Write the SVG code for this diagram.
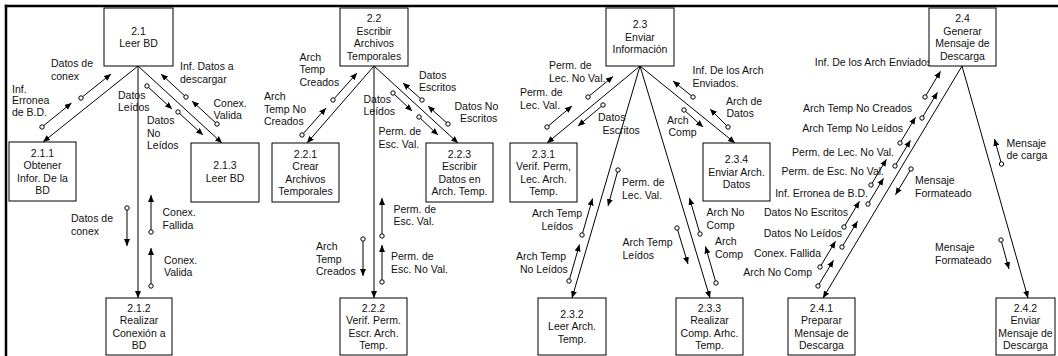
<svg xmlns="http://www.w3.org/2000/svg" width="1058" height="356" viewBox="0 0 1058 356">
<style>
.b{fill:#fff;stroke:#000;stroke-width:1}
.t{font-family:"Liberation Sans",Arial,Helvetica,sans-serif;font-size:10.5px;fill:#111}
.c{text-anchor:middle}
.e{text-anchor:end}
.m{fill:none;stroke:#000;stroke-width:1;marker-end:url(#a)}
.f{fill:none;stroke:#000;stroke-width:1;marker-start:url(#o);marker-end:url(#a)}
.fr{stroke:#000;stroke-width:2.5;fill:none}
</style>
<defs>
<marker id="a" viewBox="0 0 7 6" refX="7" refY="3" markerWidth="7" markerHeight="6" orient="auto" markerUnits="userSpaceOnUse"><path d="M0,0L7,3L0,6z" fill="#000"/></marker>
<marker id="o" viewBox="-3.5 -3.5 7 7" refX="0" refY="0" markerWidth="7" markerHeight="7" markerUnits="userSpaceOnUse"><circle r="2.2" fill="#fff" stroke="#000" stroke-width="1"/></marker>
</defs>
<rect width="1058" height="356" fill="#fff"/>
<g id="frame">
<line class="fr" x1="4.8" y1="6" x2="1058" y2="6"/>
<line class="fr" x1="6" y1="4.8" x2="6" y2="356"/>
</g>
<g id="connectors">
<line class="m" x1="138" y1="66" x2="43" y2="142"/>
<line class="m" x1="138" y1="66" x2="138" y2="298"/>
<line class="m" x1="138" y1="66" x2="222" y2="143"/>
<line class="m" x1="374" y1="66" x2="307" y2="143"/>
<line class="m" x1="374" y1="66" x2="374" y2="298"/>
<line class="m" x1="374" y1="66" x2="458" y2="143"/>
<line class="m" x1="640" y1="66" x2="547" y2="143"/>
<line class="m" x1="640" y1="66" x2="572" y2="298"/>
<line class="m" x1="640" y1="66" x2="710" y2="298"/>
<line class="m" x1="640" y1="66" x2="735" y2="143"/>
<line class="m" x1="962" y1="66" x2="823" y2="298"/>
<line class="m" x1="962" y1="66" x2="1028" y2="298"/>

<g id="flows21">
<line class="f" x1="81" y1="98" x2="111" y2="74"/>
<text class="t"><tspan x="51" y="67">Datos de</tspan><tspan x="51" y="79.5">conex</tspan></text>
<line class="f" x1="42" y1="127" x2="71.5" y2="103"/>
<text class="t"><tspan x="12" y="92.5">Inf.</tspan><tspan x="12" y="104">Erronea</tspan><tspan x="12" y="115.5">de B.D.</tspan></text>
<line class="f" x1="147" y1="86" x2="172" y2="109"/>
<text class="t"><tspan x="118" y="98.5">Datos</tspan><tspan x="118" y="111">Leídos</tspan></text>
<line class="f" x1="178" y1="112" x2="203" y2="135"/>
<text class="t"><tspan x="147" y="124">Datos</tspan><tspan x="147" y="136.5">No</tspan><tspan x="147" y="149">Leídos</tspan></text>
<line class="f" x1="186" y1="97" x2="161" y2="74"/>
<text class="t"><tspan x="180" y="70">Inf. Datos a</tspan><tspan x="180" y="82.5">descargar</tspan></text>
<line class="f" x1="217" y1="124" x2="192" y2="101"/>
<text class="t"><tspan x="213.5" y="107">Conex.</tspan><tspan x="213.5" y="119">Valida</tspan></text>
<line class="f" x1="127" y1="208" x2="127" y2="246"/>
<text class="t"><tspan x="71" y="222">Datos de</tspan><tspan x="71" y="234.5">conex</tspan></text>
<line class="f" x1="151" y1="232" x2="151" y2="195"/>
<text class="t"><tspan x="162.5" y="216">Conex.</tspan><tspan x="162.5" y="228.5">Fallida</tspan></text>
<line class="f" x1="151" y1="286" x2="151" y2="248"/>
<text class="t"><tspan x="164" y="263.5">Conex.</tspan><tspan x="164" y="276">Valida</tspan></text>
</g>

<g id="flows22">
<line class="f" x1="333" y1="100" x2="357" y2="73"/>
<text class="t"><tspan x="299.5" y="60.5">Arch</tspan><tspan x="299.5" y="73">Temp</tspan><tspan x="299.5" y="85.5">Creados</tspan></text>
<line class="f" x1="302" y1="135" x2="326" y2="108"/>
<text class="t"><tspan x="264" y="100">Arch</tspan><tspan x="264" y="112.5">Temp No</tspan><tspan x="264" y="125">Creados</tspan></text>
<line class="f" x1="393" y1="93" x2="412" y2="111"/>
<text class="t"><tspan x="363.5" y="102.5">Datos</tspan><tspan x="363.5" y="115">Leídos</tspan></text>
<line class="f" x1="419" y1="117" x2="438" y2="135"/>
<text class="t"><tspan x="378.5" y="135">Perm. de</tspan><tspan x="378.5" y="147.5">Esc. Val.</tspan></text>
<line class="f" x1="422" y1="100" x2="403" y2="83"/>
<text class="t"><tspan x="419" y="78.5">Datos</tspan><tspan x="419" y="91">Escritos</tspan></text>
<line class="f" x1="448" y1="124" x2="428" y2="106"/>
<text class="t"><tspan x="454.5" y="109.5">Datos No</tspan><tspan x="460" y="122">Escritos</tspan></text>
<line class="f" x1="363" y1="239" x2="363" y2="276"/>
<text class="t"><tspan x="316" y="250">Arch</tspan><tspan x="316" y="262.5">Temp</tspan><tspan x="316" y="275">Creados</tspan></text>
<line class="f" x1="382" y1="236" x2="382" y2="198"/>
<text class="t"><tspan x="393.5" y="212.5">Perm. de</tspan><tspan x="393.5" y="225">Esc. Val.</tspan></text>
<line class="f" x1="382" y1="282" x2="382" y2="245"/>
<text class="t"><tspan x="391" y="260">Perm. de</tspan><tspan x="391" y="272.5">Esc. No Val.</tspan></text>
</g>

<g id="flows23">
<line class="f" x1="588" y1="97" x2="613" y2="76.5"/>
<text class="t"><tspan x="549" y="69">Perm. de</tspan><tspan x="549" y="81.5">Lec. No Val.</tspan></text>
<line class="f" x1="547" y1="127" x2="572" y2="106"/>
<text class="t"><tspan x="520" y="96">Perm. de</tspan><tspan x="520" y="108.5">Lec. Val.</tspan></text>
<line class="f" x1="603" y1="105" x2="578" y2="126"/>
<text class="t"><tspan x="598" y="121">Datos</tspan><tspan x="602.5" y="133.5">Escritos</tspan></text>
<line class="f" x1="693" y1="97" x2="673" y2="81"/>
<text class="t"><tspan x="692.5" y="74">Inf. De los Arch</tspan><tspan x="692.5" y="86.5">Enviados.</tspan></text>
<line class="f" x1="684" y1="110" x2="703" y2="127"/>
<text class="t"><tspan x="667" y="123.5">Arch</tspan><tspan x="668.5" y="136">Comp</tspan></text>
<line class="f" x1="728" y1="127" x2="710" y2="109"/>
<text class="t"><tspan x="726" y="104.5">Arch de</tspan><tspan x="726.5" y="117">Datos</tspan></text>
<line class="f" x1="618" y1="170" x2="608" y2="206"/>
<text class="t"><tspan x="622" y="186">Perm. de</tspan><tspan x="622" y="198.5">Lec. Val.</tspan></text>
<line class="f" x1="582" y1="235" x2="592.5" y2="198.5"/>
<text class="t"><tspan x="532" y="217">Arch Temp</tspan><tspan x="541.5" y="229.5">Leídos</tspan></text>
<line class="f" x1="569" y1="281" x2="579.5" y2="244.5"/>
<text class="t"><tspan x="516" y="260">Arch Temp</tspan><tspan x="520" y="272.5">No Leídos</tspan></text>
<line class="f" x1="677" y1="228" x2="688" y2="264"/>
<text class="t"><tspan x="622.5" y="246">Arch Temp</tspan><tspan x="622.5" y="258.5">Leídos</tspan></text>
<line class="f" x1="700" y1="234" x2="689.5" y2="198"/>
<text class="t"><tspan x="706.5" y="216">Arch No</tspan><tspan x="706.5" y="228.5">Comp</tspan></text>
<line class="f" x1="716" y1="283" x2="705.5" y2="246.5"/>
<text class="t"><tspan x="715" y="245">Arch</tspan><tspan x="715" y="257.5">Comp</tspan></text>
</g>

<g id="flows24">
<line class="f" x1="818" y1="286" x2="833.5" y2="260.3"/>
<text class="t e" x="812" y="275.5">Arch No Comp</text>
<line class="f" x1="820" y1="267" x2="835.5" y2="241.3"/>
<text class="t e" x="821" y="256.5">Conex. Fallida</text>
<line class="f" x1="842" y1="247" x2="857.5" y2="221.3"/>
<text class="t e" x="842" y="236.5">Datos No Leídos</text>
<line class="f" x1="844" y1="227" x2="859.5" y2="201.3"/>
<text class="t e" x="848" y="215.5">Datos No Escritos</text>
<line class="f" x1="868" y1="204" x2="883.5" y2="178.3"/>
<text class="t e" x="868" y="196.5">Inf. Erronea de B.D.</text>
<line class="f" x1="871" y1="185" x2="886.5" y2="159.3"/>
<text class="t e" x="884" y="174.5">Perm. de Esc. No Val.</text>
<line class="f" x1="895" y1="166" x2="910.5" y2="140.3"/>
<text class="t e" x="894" y="155.5">Perm. de Lec. No Val.</text>
<line class="f" x1="900" y1="143" x2="915.5" y2="117.3"/>
<text class="t e" x="903" y="131.5">Arch Temp No Leídos</text>
<line class="f" x1="922" y1="118" x2="937.5" y2="92.3"/>
<text class="t e" x="912" y="111.5">Arch Temp No Creados</text>
<line class="f" x1="925" y1="97" x2="940.5" y2="71.3"/>
<text class="t e" x="935" y="66">Inf. De los Arch Enviados.</text>
<line class="f" x1="911" y1="169" x2="895.5" y2="194.7"/>
<text class="t"><tspan x="915" y="184">Mensaje</tspan><tspan x="915" y="196.5">Formateado</tspan></text>
<line class="f" x1="1001.5" y1="164" x2="994.5" y2="139"/>
<text class="t"><tspan x="1006.5" y="147">Mensaje</tspan><tspan x="1006.5" y="159">de carga</tspan></text>
<line class="f" x1="1001" y1="240" x2="1009" y2="269"/>
<text class="t"><tspan x="935" y="251">Mensaje</tspan><tspan x="935" y="263.5">Formateado</tspan></text>
</g>
</g>

<g id="n2_1"><rect class="b" x="104" y="8" width="69" height="58"/><text class="t c"><tspan x="138.5" y="34.5">2.1</tspan><tspan x="138.5" y="47">Leer BD</tspan></text></g>
<g id="n2_1_1"><rect class="b" x="9" y="142" width="67" height="59"/><text class="t c"><tspan x="42.5" y="156.5">2.1.1</tspan><tspan x="42.5" y="169">Obtener</tspan><tspan x="42.5" y="181.5">Infor. De la</tspan><tspan x="42.5" y="194">BD</tspan></text></g>
<g id="n2_1_2"><rect class="b" x="106" y="298" width="66" height="57"/><text class="t c"><tspan x="139" y="311.5">2.1.2</tspan><tspan x="139" y="324">Realizar</tspan><tspan x="139" y="336.5">Conexión a</tspan><tspan x="139" y="349">BD</tspan></text></g>
<g id="n2_1_3"><rect class="b" x="191" y="143" width="68" height="59"/><text class="t c"><tspan x="225" y="169">2.1.3</tspan><tspan x="225" y="181.5">Leer BD</tspan></text></g>

<g id="n2_2"><rect class="b" x="340" y="8" width="68" height="58"/><text class="t c"><tspan x="374" y="22">2.2</tspan><tspan x="374" y="34.5">Escribir</tspan><tspan x="374" y="47">Archivos</tspan><tspan x="374" y="59.5">Temporales</tspan></text></g>
<g id="n2_2_1"><rect class="b" x="272" y="143" width="67" height="59"/><text class="t c"><tspan x="305.5" y="157.5">2.2.1</tspan><tspan x="305.5" y="170">Crear</tspan><tspan x="305.5" y="182.5">Archivos</tspan><tspan x="305.5" y="195">Temporales</tspan></text></g>
<g id="n2_2_2"><rect class="b" x="340" y="298" width="67" height="57"/><text class="t c"><tspan x="373.5" y="311.5">2.2.2</tspan><tspan x="373.5" y="324">Verif. Perm.</tspan><tspan x="373.5" y="336.5">Escr. Arch.</tspan><tspan x="373.5" y="349">Temp.</tspan></text></g>
<g id="n2_2_3"><rect class="b" x="426" y="143" width="67" height="59"/><text class="t c"><tspan x="459.5" y="157.5">2.2.3</tspan><tspan x="459.5" y="170">Escribir</tspan><tspan x="459.5" y="182.5">Datos en</tspan><tspan x="459.5" y="195">Arch. Temp.</tspan></text></g>

<g id="n2_3"><rect class="b" x="606" y="8" width="68" height="58"/><text class="t c"><tspan x="640" y="28.3">2.3</tspan><tspan x="640" y="40.8">Enviar</tspan><tspan x="640" y="53.3">Información</tspan></text></g>
<g id="n2_3_1"><rect class="b" x="510" y="143" width="67" height="59"/><text class="t c"><tspan x="543.5" y="157.5">2.3.1</tspan><tspan x="543.5" y="170">Verif. Perm,</tspan><tspan x="543.5" y="182.5">Lec. Arch.</tspan><tspan x="543.5" y="195">Temp.</tspan></text></g>
<g id="n2_3_2"><rect class="b" x="538" y="298" width="68" height="57"/><text class="t c"><tspan x="572" y="317.8">2.3.2</tspan><tspan x="572" y="330.3">Leer Arch.</tspan><tspan x="572" y="342.8">Temp.</tspan></text></g>
<g id="n2_3_3"><rect class="b" x="676" y="298" width="67" height="57"/><text class="t c"><tspan x="709.5" y="311.5">2.3.3</tspan><tspan x="709.5" y="324">Realizar</tspan><tspan x="709.5" y="336.5">Comp. Arhc.</tspan><tspan x="709.5" y="349">Temp.</tspan></text></g>
<g id="n2_3_4"><rect class="b" x="703" y="143" width="67" height="58"/><text class="t c"><tspan x="736.5" y="163.3">2.3.4</tspan><tspan x="736.5" y="175.8">Enviar Arch.</tspan><tspan x="736.5" y="188.3">Datos</tspan></text></g>

<g id="n2_4"><rect class="b" x="929" y="8" width="67" height="58"/><text class="t c"><tspan x="962.5" y="22">2.4</tspan><tspan x="962.5" y="34.5">Generar</tspan><tspan x="962.5" y="47">Mensaje de</tspan><tspan x="962.5" y="59.5">Descarga</tspan></text></g>
<g id="n2_4_1"><rect class="b" x="788" y="298" width="67" height="57"/><text class="t c"><tspan x="821.5" y="311.5">2.4.1</tspan><tspan x="821.5" y="324">Preparar</tspan><tspan x="821.5" y="336.5">Mensaje de</tspan><tspan x="821.5" y="349">Descarga</tspan></text></g>
<g id="n2_4_2"><rect class="b" x="996" y="298" width="59" height="57"/><text class="t c"><tspan x="1025.5" y="311.5">2.4.2</tspan><tspan x="1025.5" y="324">Enviar</tspan><tspan x="1025.5" y="336.5">Mensaje de</tspan><tspan x="1025.5" y="349">Descarga</tspan></text></g>
</svg>
